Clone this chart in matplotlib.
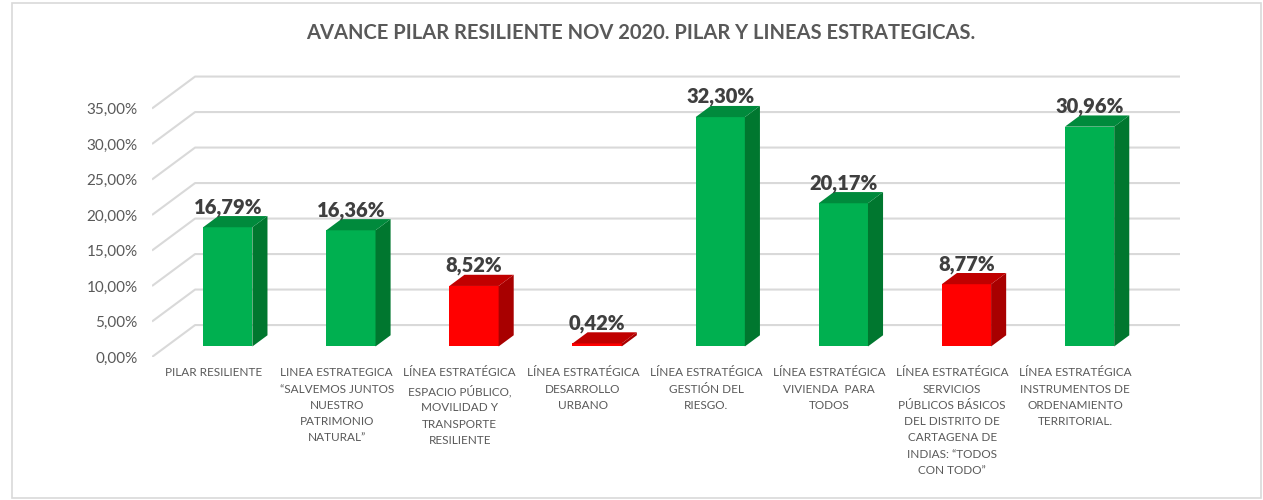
import matplotlib.pyplot as plt
from matplotlib.patches import Polygon, Rectangle

categories = [
    "PILAR RESILIENTE",
    "LINEA ESTRATEGICA\n\u201cSALVEMOS JUNTOS\nNUESTRO\nPATRIMONIO\nNATURAL\u201d",
    "LÍNEA ESTRATÉGICA\nESPACIO PÚBLICO,\nMOVILIDAD Y\nTRANSPORTE\nRESILIENTE",
    "LÍNEA ESTRATÉGICA\nDESARROLLO\nURBANO",
    "LÍNEA ESTRATÉGICA\nGESTIÓN DEL\nRIESGO.",
    "LÍNEA ESTRATÉGICA\nVIVIENDA  PARA\nTODOS",
    "LÍNEA ESTRATÉGICA\nSERVICIOS\nPÚBLICOS BÁSICOS\nDEL DISTRITO DE\nCARTAGENA DE\nINDIAS: \u201cTODOS\nCON TODO\u201d",
    "LÍNEA ESTRATÉGICA\nINSTRUMENTOS DE\nORDENAMIENTO\nTERRITORIAL.",
]
values = [16.79, 16.36, 8.52, 0.42, 32.30, 20.17, 8.77, 30.96]
status = ["ok", "ok", "low", "low", "ok", "ok", "low", "ok"]
yticks = [0, 5, 10, 15, 20, 25, 30, 35]

# face colours: front, side, top
colors = {
    "ok": ("#00b050", "#00772f", "#008a3c"),
    "low": ("#ff0000", "#a80000", "#c00000"),
}

# oblique depth: full depth of the box in x (categories) and y (%)
DX, DY = 0.35, 4.5
D0, D1 = 0.33, 0.68   # bar depth range
BW = 0.4

plt.rcParams["font.family"] = ["Lato", "DejaVu Sans"]

fig = plt.figure(figsize=(12.63, 5), dpi=100)
ax = fig.add_axes([152 / 1263, 143 / 500, 1028 / 1263, 284 / 500])
ax.set_xlim(-0.5, len(values) - 0.5 + DX)
ax.set_ylim(0, 40)

grid_c = "#d9d9d9"
x_left, x_right = -0.5, len(values) - 0.5 + DX
for v in yticks:
    ax.plot([x_left, x_left + DX, x_right], [v, v + DY, v + DY],
            color=grid_c, lw=1.5, zorder=1, solid_capstyle="butt")

for i, (v, s) in enumerate(zip(values, status)):
    front, side, top = colors[s]
    xf = i + D0 * DX - BW / 2
    yb = D0 * DY
    ddx = (D1 - D0) * DX
    ddy = (D1 - D0) * DY
    ax.add_patch(Polygon([(xf, yb), (xf + BW, yb), (xf + BW, yb + v), (xf, yb + v)],
                         closed=True, fc=front, ec="none", zorder=3))
    ax.add_patch(Polygon([(xf + BW, yb), (xf + BW + ddx, yb + ddy),
                          (xf + BW + ddx, yb + ddy + v), (xf + BW, yb + v)],
                         closed=True, fc=side, ec="none", zorder=3))
    ax.add_patch(Polygon([(xf, yb + v), (xf + BW, yb + v),
                          (xf + BW + ddx, yb + v + ddy), (xf + ddx, yb + v + ddy)],
                         closed=True, fc=top, ec="none", zorder=3))
    ax.text(xf + BW / 2, yb + v + 1.5, f"{v:.2f}%".replace(".", ","),
            ha="center", va="bottom", fontsize=14.5, fontweight="heavy",
            color="#3f3f3f", zorder=4)

ax.set_yticks(yticks)
ax.set_yticklabels([f"{t:.2f}%".replace(".", ",") for t in yticks])
ax.set_xticks(range(len(values)))
ax.set_xticklabels(categories, fontsize=8.5, color="#595959", linespacing=1.58)
ax.tick_params(axis="y", length=0, pad=10.5, labelsize=11, labelcolor="#595959")
ax.tick_params(axis="x", length=0, pad=7.5)
for sp in ax.spines.values():
    sp.set_visible(False)
ax.set_facecolor("none")

fig.text(0.507, 1 - 33 / 500, "AVANCE PILAR RESILIENTE NOV 2020. PILAR Y LINEAS ESTRATEGICAS.",
         ha="center", va="center", fontsize=14.5, fontweight="bold", color="#595959")

fig.patches.append(Rectangle((12 / 1263, 2 / 500), 1249 / 1263, 495 / 500,
                             transform=fig.transFigure, fill=False,
                             ec="#d9d9d9", lw=1.2))

fig.savefig("out.png", dpi=100)
